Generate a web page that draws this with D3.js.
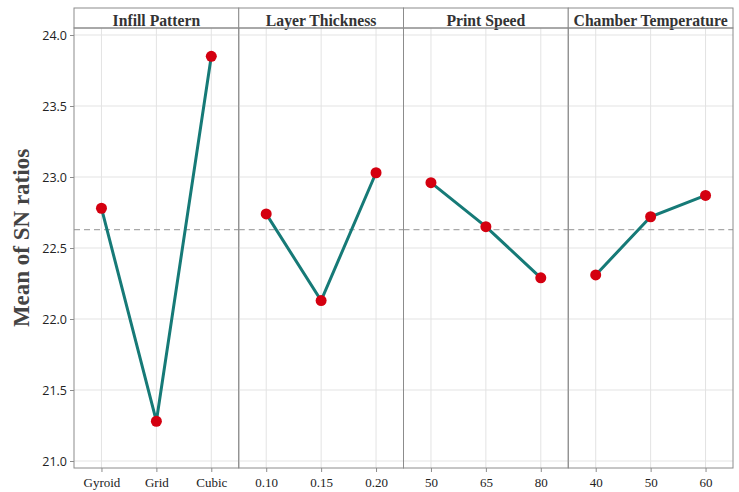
<!DOCTYPE html>
<html>
<head>
<meta charset="utf-8">
<script src="https://cdn.jsdelivr.net/npm/d3@7"></script>
<style>
  body { margin: 0; background: #fff; }
  svg { display: block; }
  .serif { font-family: "Liberation Serif", "DejaVu Serif", serif; }
  .sans { font-family: "Open Sans", "DejaVu Sans", sans-serif; }
</style>
</head>
<body>
<svg id="chart" width="739" height="492"></svg>
<script>
// Main effects plot: mean of SN ratios for each factor level
const factors = ["Infill Pattern", "Layer Thickness", "Print Speed", "Chamber Temperature"];
const infillLevels = ["Gyroid", "Grid", "Cubic"];
const infillMeans = [22.78, 21.28, 23.85];
const thicknessLevels = ["0.10", "0.15", "0.20"];
const thicknessMeans = [22.74, 22.13, 23.03];
const speedLevels = ["50", "65", "80"];
const speedMeans = [22.96, 22.65, 22.29];
const tempLevels = ["40", "50", "60"];
const tempMeans = [22.31, 22.72, 22.87];
const overallMean = 22.63;
const yTicks = [21.0, 21.5, 22.0, 22.5, 23.0, 23.5, 24.0];

const panels = [
  { name: factors[0], levels: infillLevels, means: infillMeans },
  { name: factors[1], levels: thicknessLevels, means: thicknessMeans },
  { name: factors[2], levels: speedLevels, means: speedMeans },
  { name: factors[3], levels: tempLevels, means: tempMeans }
];

const svg = d3.select("#chart");
const left = 74, right = 733, stripTop = 8, plotTop = 28, bottom = 468;

const y = d3.scaleLinear().domain([21.0, 24.0]).range([461, 35]);

const gridColor = "#e3e3e3";
const borderColor = "#8c8c8c";

// one band per factor panel
const panelX = d3.scaleBand().domain(factors).range([left, right]).padding(0);

panels.forEach(p => {
  const x0 = panelX(p.name);
  const w = panelX.bandwidth();
  const x = d3.scalePoint().domain(p.levels).range([x0, x0 + w]).padding(0.5);
  const g = svg.append("g");

  // horizontal gridlines
  g.selectAll("line.hg").data(yTicks).join("line")
    .attr("x1", x0).attr("x2", x0 + w)
    .attr("y1", d => y(d)).attr("y2", d => y(d))
    .attr("stroke", gridColor).attr("stroke-width", 1);

  // vertical gridlines
  g.selectAll("line.vg").data(p.levels).join("line")
    .attr("x1", d => x(d)).attr("x2", d => x(d))
    .attr("y1", plotTop).attr("y2", bottom)
    .attr("stroke", gridColor).attr("stroke-width", 1);

  // overall mean reference line
  g.append("line")
    .attr("x1", x0).attr("x2", x0 + w)
    .attr("y1", y(overallMean)).attr("y2", y(overallMean))
    .attr("stroke", "#a8a8a8").attr("stroke-width", 1.3)
    .attr("stroke-dasharray", "6,4");

  // x axis
  const ax = d3.axisBottom(x).tickSize(4).tickPadding(6);
  const axg = svg.append("g").attr("transform", `translate(0,${bottom})`).call(ax);
  axg.attr("font-family", null).attr("font-size", null);
  axg.select(".domain").remove();
  axg.selectAll(".tick line").attr("stroke", borderColor);
  axg.selectAll(".tick text")
    .attr("class", "serif")
    .style("font-size", "13px").attr("fill", "#222");

  // factor line
  const pts = p.levels.map((l, i) => ({ l, v: p.means[i] }));
  g.append("path").datum(pts)
    .attr("d", d3.line().x(d => x(d.l)).y(d => y(d.v)))
    .attr("fill", "none").attr("stroke", "#167a77").attr("stroke-width", 3);

  g.selectAll("circle").data(pts).join("circle")
    .attr("cx", d => x(d.l)).attr("cy", d => y(d.v)).attr("r", 5.5)
    .attr("fill", "#d40010");

  // strip
  g.append("rect")
    .attr("x", x0).attr("y", stripTop)
    .attr("width", w).attr("height", plotTop - stripTop)
    .attr("fill", "#fff").attr("stroke", borderColor).attr("stroke-width", 1);
  g.append("text")
    .attr("class", "serif")
    .attr("x", x0 + w / 2).attr("y", plotTop - 2.5)
    .attr("text-anchor", "middle")
    .style("font-weight", "bold").style("font-size", "15.7px").attr("fill", "#333")
    .text(p.name);

  // panel border
  g.append("rect")
    .attr("x", x0).attr("y", plotTop)
    .attr("width", w).attr("height", bottom - plotTop)
    .attr("fill", "none").attr("stroke", borderColor).attr("stroke-width", 1);
});

// y axis
const ay = d3.axisLeft(y).tickValues(yTicks).tickFormat(d3.format(".1f")).tickSize(4).tickPadding(3);
const ayg = svg.append("g").attr("transform", `translate(${left},0)`).call(ay);
ayg.attr("font-family", null).attr("font-size", null);
ayg.select(".domain").remove();
ayg.selectAll(".tick line").attr("stroke", borderColor);
ayg.selectAll(".tick text")
  .attr("class", "sans")
  .style("font-size", "12.5px").attr("fill", "#222");

// y axis title
svg.append("text")
  .attr("class", "serif")
  .attr("transform", "translate(29,238) rotate(-90)")
  .attr("text-anchor", "middle")
  .style("font-weight", "bold").style("font-size", "23px").attr("fill", "#444")
  .text("Mean of SN ratios");
</script>
</body>
</html>
